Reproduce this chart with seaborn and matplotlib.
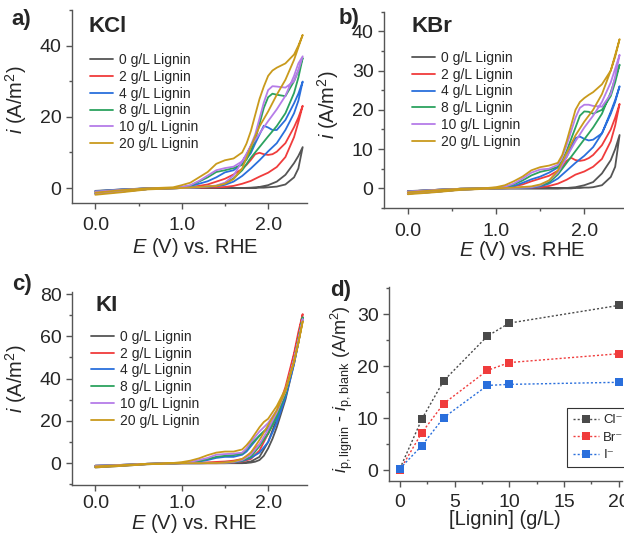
import matplotlib
matplotlib.use("Agg")
import matplotlib.pyplot as plt
import pandas as pd
import seaborn as sns
from matplotlib.ticker import MultipleLocator, FormatStrFormatter

# potential grids (V vs RHE) for the anodic and return sweeps
e_fwd = [0.0, 0.3, 0.6, 0.9, 1.0, 1.1, 1.2, 1.3, 1.4, 1.5, 1.6, 1.7, 1.75, 1.8,
         1.85, 1.9, 1.95, 2.0, 2.05, 2.1, 2.2, 2.3, 2.35, 2.4]
e_rev = [2.4, 2.35, 2.3, 2.2, 2.1, 2.0, 1.9, 1.8, 1.7, 1.6, 1.5, 1.4, 1.2, 1.0,
         0.6, 0.3, 0.0]

conc_labels = ["0 g/L Lignin", "2 g/L Lignin", "4 g/L Lignin", "8 g/L Lignin",
               "10 g/L Lignin", "20 g/L Lignin"]
colors = ["#555555", "#f03c3c", "#2a6fdc", "#2ca25f", "#b57ce8", "#c99a1c"]

# KCl current densities (A/m2), one row per lignin loading
kcl_fwd = [
    [-0.8, -0.4, -0.1, 0, 0, 0, 0, 0, 0, 0, 0, 0, 0, 0, 0, 0.1, 0.1, 0.2, 0.3, 0.4, 1.0, 3.0, 5.5, 11.5],
    [-1.0, -0.5, -0.1, 0, 0.1, 0.3, 0.6, 1.0, 1.8, 2.6, 3.8, 5.4, 6.5, 7.9, 9.5, 9.9, 9.5, 9.3, 9.5, 10.2, 12.6, 17.1, 19.8, 23.1],
    [-0.9, -0.4, -0.1, 0, 0.2, 0.6, 1.2, 1.9, 3.0, 4.4, 5.0, 6.9, 8.2, 9.8, 12.5, 15.0, 17.5, 17.0, 16.3, 16.3, 19.1, 23.8, 26.5, 29.9],
    [-1.0, -0.5, -0.1, 0, 0.2, 0.7, 1.8, 3.0, 4.5, 5.0, 5.6, 6.5, 8.0, 10.5, 13.5, 18.0, 22.5, 25.5, 26.5, 26.2, 25.8, 30.0, 33.0, 36.5],
    [-1.0, -0.5, -0.1, 0, 0.3, 0.8, 2.0, 3.5, 5.0, 5.6, 6.0, 7.5, 9.3, 12.0, 15.0, 19.5, 24.0, 27.5, 28.6, 28.5, 28.2, 30.0, 33.0, 37.0],
    [-1.3, -0.6, -0.1, 0.2, 0.8, 1.5, 3.0, 4.5, 6.8, 7.8, 8.3, 10.0, 12.5, 16.0, 20.5, 25.0, 28.5, 31.5, 33.0, 33.8, 35.0, 37.5, 40.0, 43.0],
]
kcl_rev = [
    [11.5, 9.0, 7.0, 3.7, 1.8, 0.8, 0.3, 0.1, 0, 0, 0, 0, 0, 0, -0.3, -0.9, -1.4],
    [23.1, 18.5, 14.3, 8.7, 5.9, 4.3, 3.2, 2.0, 1.2, 0.6, 0.3, 0.2, 0.1, 0, -0.3, -1.0, -1.6],
    [29.9, 24.5, 21.0, 16.3, 12.6, 10.3, 7.8, 5.5, 3.4, 1.8, 0.9, 0.5, 0.2, 0, -0.3, -0.9, -1.5],
    [36.5, 31.0, 26.7, 21.0, 17.4, 14.5, 11.5, 8.5, 5.0, 2.7, 1.3, 0.6, 0.2, 0, -0.3, -1.0, -1.6],
    [37.0, 35.0, 31.5, 25.9, 22.1, 18.8, 15.3, 11.8, 7.5, 3.5, 1.5, 0.7, 0.2, 0, -0.3, -1.0, -1.6],
    [43.0, 39.5, 36.0, 30.4, 26.2, 21.5, 17.3, 11.6, 5.5, 2.5, 1.2, 0.6, 0.3, 0, -0.4, -1.2, -1.9],
]

# KBr
kbr_fwd = [
    [-0.7, -0.4, -0.1, 0, 0, 0, 0, 0, 0, 0, 0, 0, 0, 0, 0, 0.1, 0.1, 0.2, 0.2, 0.3, 0.8, 2.9, 5.5, 13.6],
    [-0.8, -0.4, -0.1, 0, 0.1, 0.2, 0.5, 1.0, 1.8, 2.5, 3.2, 4.5, 5.5, 7.0, 7.8, 7.2, 7.0, 7.2, 7.7, 8.5, 11.0, 15.0, 18.0, 21.5],
    [-0.8, -0.4, -0.1, 0, 0.1, 0.3, 0.6, 1.4, 2.3, 3.0, 4.0, 5.3, 6.5, 8.0, 10.5, 12.8, 13.2, 12.6, 12.2, 12.4, 14.0, 19.5, 22.5, 26.0],
    [-0.8, -0.4, -0.1, 0, 0.1, 0.3, 1.0, 2.0, 3.3, 4.2, 4.7, 5.5, 7.0, 9.5, 12.5, 15.5, 18.5, 19.6, 19.5, 19.0, 20.0, 23.5, 27.0, 31.5],
    [-0.8, -0.4, -0.1, 0, 0.2, 0.4, 1.2, 2.5, 4.0, 4.8, 5.0, 6.0, 8.0, 11.0, 14.5, 18.0, 20.5, 21.3, 21.3, 21.0, 20.8, 24.0, 28.5, 34.0],
    [-1.0, -0.5, -0.1, 0.1, 0.3, 0.8, 1.8, 3.0, 4.6, 5.4, 5.8, 6.5, 8.5, 12.0, 16.0, 20.0, 22.0, 23.0, 23.8, 24.5, 26.5, 30.0, 33.5, 38.0],
]
kbr_rev = [
    [13.6, 10.0, 7.2, 3.8, 1.6, 0.8, 0.3, 0.1, 0, 0, 0, 0, 0, 0, -0.3, -0.8, -1.2],
    [21.5, 16.0, 12.0, 7.5, 5.5, 4.3, 3.5, 2.2, 1.2, 0.6, 0.3, 0.2, 0.1, 0, -0.3, -0.9, -1.3],
    [26.0, 22.0, 19.0, 14.0, 10.5, 8.3, 6.5, 4.5, 2.5, 1.2, 0.5, 0.2, 0.1, 0, -0.3, -0.9, -1.3],
    [31.5, 28.0, 24.5, 19.0, 15.5, 12.5, 9.5, 6.5, 3.5, 1.5, 0.7, 0.3, 0.1, 0, -0.3, -0.9, -1.3],
    [34.0, 30.5, 27.0, 22.0, 18.5, 15.5, 12.0, 8.0, 4.0, 2.0, 0.8, 0.3, 0.1, 0, -0.3, -0.9, -1.3],
    [38.0, 34.0, 30.0, 24.0, 20.0, 17.0, 13.5, 9.0, 4.5, 2.0, 1.0, 0.5, 0.2, 0, -0.4, -1.0, -1.5],
]

# KI
ki_fwd = [
    [-1.5, -1.0, -0.3, 0, 0, 0, 0, 0, 0, 0, 0, 0, 0.1, 0.3, 0.7, 1.5, 3.5, 7.0, 11.5, 17.0, 30.0, 47.0, 57.0, 69.0],
    [-1.2, -0.8, -0.3, 0, 0, 0.1, 0.2, 0.4, 0.6, 0.8, 1.2, 2.0, 3.0, 5.0, 7.0, 9.0, 11.5, 14.0, 18.0, 22.0, 34.0, 51.0, 60.0, 70.5],
    [-1.2, -0.8, -0.3, 0, 0.1, 0.3, 0.8, 1.5, 2.5, 3.0, 3.0, 4.0, 5.5, 8.0, 10.5, 13.0, 15.0, 16.0, 18.0, 21.0, 32.0, 48.0, 57.0, 68.0],
    [-1.2, -0.8, -0.3, 0, 0.1, 0.4, 1.0, 2.0, 3.0, 3.5, 3.8, 4.5, 6.5, 9.0, 11.0, 13.0, 15.0, 17.0, 19.5, 23.0, 33.0, 49.0, 58.0, 69.0],
    [-1.2, -0.8, -0.3, 0, 0.2, 0.6, 1.5, 2.5, 4.0, 4.3, 4.5, 5.0, 7.0, 10.0, 12.5, 15.0, 17.0, 19.0, 22.0, 25.0, 34.0, 49.0, 58.0, 68.0],
    [-1.5, -0.9, -0.3, 0.1, 0.5, 1.2, 2.3, 3.8, 5.0, 5.5, 5.5, 6.5, 8.5, 11.0, 14.0, 17.0, 19.5, 21.0, 24.0, 27.0, 35.0, 48.0, 57.0, 67.0],
]
ki_rev = [
    [69.0, 60.0, 50.0, 34.0, 21.0, 10.0, 3.0, 0.8, 0.2, 0.1, 0, 0, 0, 0, -0.5, -1.3, -2.0],
    [70.5, 62.0, 52.0, 36.0, 24.0, 14.0, 6.0, 2.0, 0.8, 0.3, 0.1, 0, 0, 0, -0.4, -1.1, -1.8],
    [68.0, 57.0, 47.0, 31.0, 19.0, 10.0, 5.0, 2.5, 1.0, 0.4, 0.2, 0.1, 0, 0, -0.4, -1.1, -1.8],
    [69.0, 59.0, 49.0, 33.0, 22.0, 14.0, 8.0, 3.0, 1.2, 0.5, 0.2, 0.1, 0, 0, -0.4, -1.1, -1.8],
    [68.0, 58.0, 49.0, 34.0, 24.0, 16.0, 9.0, 4.0, 1.5, 0.6, 0.2, 0.1, 0, 0, -0.4, -1.1, -1.8],
    [67.0, 57.0, 48.0, 34.0, 25.0, 18.0, 11.0, 5.0, 2.0, 0.8, 0.3, 0.1, 0, 0, -0.5, -1.3, -2.0],
]

# panel d: peak current increase vs lignin loading
lignin = [0, 2, 4, 8, 10, 20]
d_cl = [0.3, 9.8, 17.2, 25.8, 28.3, 31.7]
d_br = [0.0, 7.2, 12.8, 19.2, 20.7, 22.4]
d_i = [0.3, 4.7, 10.1, 16.3, 16.5, 16.9]
ion_labels = ["Cl\u207b", "Br\u207b", "I\u207b"]

sns.set_style("ticks")
plt.rcParams["font.family"] = ["Liberation Sans", "DejaVu Sans"]
plt.rcParams["mathtext.fontset"] = "custom"
plt.rcParams["mathtext.rm"] = "Liberation Sans"
plt.rcParams["mathtext.it"] = "Liberation Sans:italic"
plt.rcParams["mathtext.bf"] = "Liberation Sans:bold"

spine_col = "#555555"

fig = plt.figure(figsize=(6.24, 5.35), dpi=100)
ax_a = fig.add_axes([0.1154, 0.6206, 0.3766, 0.3607])
ax_b = fig.add_axes([0.6154, 0.6112, 0.3846, 0.3670])
ax_c = fig.add_axes([0.1154, 0.0935, 0.3766, 0.3613])
ax_d = fig.add_axes([0.6234, 0.1009, 0.3734, 0.3632])


def style_axes(ax, xpad, ylab_xy, xlab_xy):
    sns.despine(ax=ax)
    for s in ["left", "bottom"]:
        ax.spines[s].set_color(spine_col)
        ax.spines[s].set_linewidth(1.0)
    ax.tick_params(which="both", direction="out", color=spine_col, labelsize=14, width=1.0)
    ax.tick_params(which="major", length=4)
    ax.tick_params(which="minor", length=2.5)
    ax.tick_params(axis="x", pad=xpad)
    ax.yaxis.label.set_va("center")
    ax.xaxis.label.set_va("center")
    ax.yaxis.set_label_coords(*ylab_xy)
    ax.xaxis.set_label_coords(*xlab_xy)


def cv_panel(ax, fwd, rev, title, ylim, major, minor, leg_xy, title_xy, ylab_xy, xlab_xy, xpad):
    for j in range(len(conc_labels)):
        df = pd.DataFrame({"E": e_fwd + e_rev, "i": fwd[j] + rev[j]})
        sns.lineplot(data=df, x="E", y="i", sort=False, estimator=None,
                     color=colors[j], lw=1.3, label=conc_labels[j], ax=ax)
    ax.set_xlim(-0.27, 2.45)
    ax.set_ylim(*ylim)
    ax.xaxis.set_major_locator(MultipleLocator(1.0))
    ax.xaxis.set_minor_locator(MultipleLocator(0.5))
    ax.xaxis.set_major_formatter(FormatStrFormatter("%.1f"))
    ax.yaxis.set_major_locator(MultipleLocator(major))
    ax.yaxis.set_minor_locator(MultipleLocator(minor))
    ax.set_xlabel(r"$E$ (V) vs. RHE", fontsize=14.5)
    ax.set_ylabel(r"$i$ (A/m$^2$)", fontsize=14.5)
    style_axes(ax, xpad, ylab_xy, xlab_xy)
    ax.text(title_xy[0], title_xy[1], title, transform=ax.transAxes,
            fontsize=16, fontweight="bold", va="center", ha="left")
    ax.legend(loc="upper left", bbox_to_anchor=leg_xy, frameon=False, fontsize=10,
              handlelength=1.65, handletextpad=0.4, labelspacing=0.2,
              borderpad=0, borderaxespad=0)


cv_panel(ax_a, kcl_fwd, kcl_rev, "KCl", (-4.2, 50), 20, 10,
         (0.077, 0.777), (0.072, 0.912), (-0.238, 0.534), (0.523, -0.233), 6)
cv_panel(ax_b, kbr_fwd, kbr_rev, "KBr", (-5.0, 45), 10, 5,
         (0.117, 0.80), (0.1125, 0.924), (-0.233, 0.525), (0.575, -0.215), 7)
cv_panel(ax_c, ki_fwd, ki_rev, "KI", (-10.3, 81.1), 20, 10,
         (0.081, 0.803), (0.10, 0.931), (-0.238, 0.551), (0.519, -0.197), 3)

# panel d
for y, col, lab in zip([d_cl, d_br, d_i], ["#4a4a4a", "#f03c3c", "#2a6fdc"], ion_labels):
    sns.lineplot(x=lignin, y=y, color=col, marker="s", markersize=6, markeredgewidth=0,
                 lw=1.0, linestyle=(0, (1.5, 1.5)), label=lab, ax=ax_d)
ax_d.set_xlim(-1.0, 20.3)
ax_d.set_ylim(-2.1, 35.3)
ax_d.xaxis.set_major_locator(MultipleLocator(5))
ax_d.xaxis.set_minor_locator(MultipleLocator(2.5))
ax_d.yaxis.set_major_locator(MultipleLocator(10))
ax_d.yaxis.set_minor_locator(MultipleLocator(5))
ax_d.set_xlabel("[Lignin] (g/L)", fontsize=14.5)
ax_d.set_ylabel(r"$i$$_\mathrm{p,lignin}$ - $i$$_\mathrm{p,blank}$ (A/m$^2$)", fontsize=13)
style_axes(ax_d, 5, (-0.202, 0.475), (0.498, -0.2))
leg = ax_d.legend(loc="upper left", bbox_to_anchor=(0.764, 0.376), fontsize=9.5,
                  frameon=True, fancybox=False, framealpha=1, edgecolor="#333333",
                  handlelength=2.0, handletextpad=0.3, labelspacing=0.4,
                  borderpad=0.45, borderaxespad=0)
leg.get_frame().set_linewidth(0.8)

for txt, x, y in [("a)", 0.019, 0.963), ("b)", 0.543, 0.965), ("c)", 0.019, 0.469), ("d)", 0.529, 0.457)]:
    fig.text(x, y, txt, fontsize=16, fontweight="bold", va="center", ha="left")

fig.savefig("out.png", dpi=100)
